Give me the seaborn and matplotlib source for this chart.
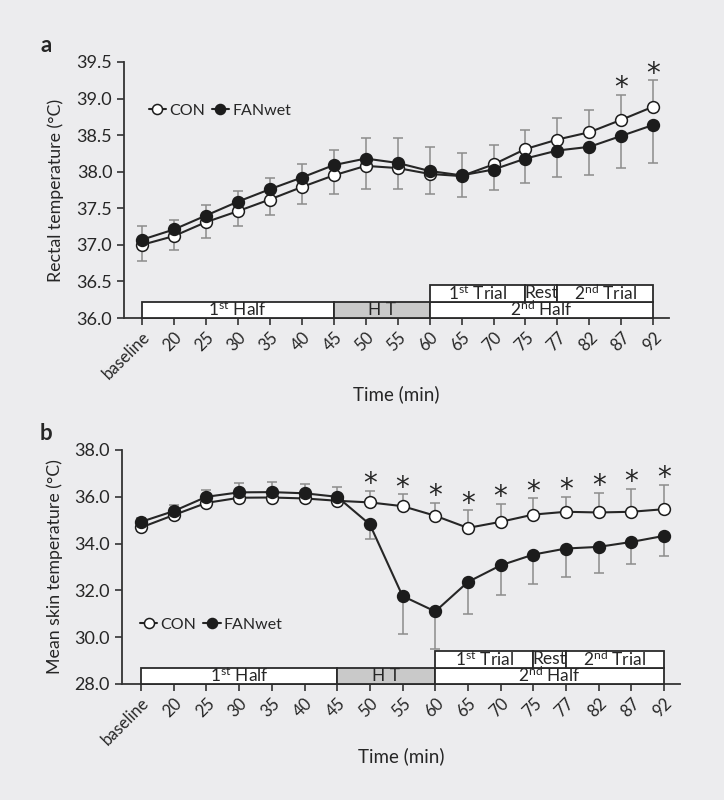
import numpy as np
import pandas as pd
import matplotlib
matplotlib.use("Agg")
import matplotlib.pyplot as plt
import matplotlib.transforms as mtransforms
from matplotlib.patches import Rectangle
from matplotlib import font_manager
import seaborn as sns

# ---------------- data ----------------
time_labels = ["baseline", "20", "25", "30", "35", "40", "45", "50", "55", "60",
               "65", "70", "75", "77", "82", "87", "92"]

rectal_con = [37.00, 37.12, 37.31, 37.46, 37.62, 37.79, 37.95, 38.08, 38.05, 37.97,
              37.94, 38.10, 38.31, 38.44, 38.54, 38.71, 38.89]
rectal_fan = [37.07, 37.21, 37.40, 37.59, 37.76, 37.92, 38.09, 38.18, 38.12, 38.01,
              37.95, 38.03, 38.18, 38.29, 38.34, 38.49, 38.64]
rectal_con_sd = [0.22, 0.19, 0.22, 0.20, 0.21, 0.23, 0.26, 0.31, 0.28, 0.27,
                 0.28, 0.27, 0.26, 0.30, 0.31, 0.34, 0.36]
rectal_fan_sd = [0.19, 0.13, 0.15, 0.14, 0.16, 0.19, 0.21, 0.28, 0.34, 0.33,
                 0.31, 0.28, 0.33, 0.36, 0.38, 0.44, 0.52]
rectal_sig = ["87", "92"]

skin_con = [34.69, 35.22, 35.74, 35.96, 35.97, 35.93, 35.83, 35.76, 35.60, 35.19,
            34.67, 34.93, 35.24, 35.36, 35.33, 35.36, 35.47]
skin_fan = [34.93, 35.39, 36.00, 36.19, 36.20, 36.15, 36.00, 34.82, 31.76, 31.10,
            32.36, 33.07, 33.53, 33.79, 33.86, 34.07, 34.33]
skin_con_sd = [0.15, 0.15, 0.15, 0.15, 0.15, 0.15, 0.15, 0.50, 0.50, 0.55,
               0.76, 0.78, 0.69, 0.64, 0.84, 0.97, 1.03]
skin_fan_sd = [0.15, 0.28, 0.29, 0.38, 0.43, 0.38, 0.43, 0.63, 1.62, 1.60,
               1.36, 1.25, 1.24, 1.22, 1.10, 0.95, 0.87]
skin_sig = ["50", "55", "60", "65", "70", "75", "77", "82", "87", "92"]

phase_lower_labels = [r"1$^{\mathrm{st}}$ Half", "H T", r"2$^{\mathrm{nd}}$ Half"]
phase_lower_spans = [("baseline", "45"), ("45", "60"), ("60", "92")]
phase_lower_fill = ["white", "#c9c9c9", "white"]
phase_upper_labels = [r"1$^{\mathrm{st}}$ Trial", "Rest", r"2$^{\mathrm{nd}}$ Trial"]
phase_upper_spans = [("60", "75"), ("75", "77"), ("77", "92")]

# ---------------- style ----------------
bg = "#ececee"
ink = "#262626"
sns.set_theme(style="ticks", rc={
    "axes.facecolor": bg, "figure.facecolor": bg, "savefig.facecolor": bg,
    "axes.edgecolor": "#333333", "axes.linewidth": 1.3,
    "xtick.color": "#333333", "ytick.color": "#333333",
    "text.color": ink, "axes.labelcolor": ink,
    "xtick.labelcolor": ink, "ytick.labelcolor": ink,
})
avail = {f.name for f in font_manager.fontManager.ttflist}
fam = next((f for f in ["Lato", "Liberation Sans Narrow", "DejaVu Sans"] if f in avail), "DejaVu Sans")
plt.rcParams["font.family"] = [fam, "DejaVu Sans"]
plt.rcParams["mathtext.fontset"] = "custom"
plt.rcParams["mathtext.rm"] = fam
plt.rcParams["mathtext.it"] = fam + ":italic"
plt.rcParams["mathtext.bf"] = fam + ":bold"

W, H = 724, 800
fig = plt.figure(figsize=(W / 100, H / 100), dpi=100)


def px_axes(left, top, right, bottom):
    return fig.add_axes([left / W, 1 - bottom / H, (right - left) / W, (bottom - top) / H])


def panel(ax, con, fan, con_sd, fan_sd, sig, ylim, yticks, ylabel, xlim,
          legend_xy, ylabel_x, xlabel_y):
    n = len(time_labels)
    x = np.arange(n)
    con = np.asarray(con); fan = np.asarray(fan)
    con_sd = np.asarray(con_sd); fan_sd = np.asarray(fan_sd)
    fan_high = fan >= con
    zeros = np.zeros(n)
    con_err = [np.where(fan_high, con_sd, zeros), np.where(fan_high, zeros, con_sd)]
    fan_err = [np.where(fan_high, zeros, fan_sd), np.where(fan_high, fan_sd, zeros)]
    ebkw = dict(fmt="none", ecolor="#8c8c8c", elinewidth=1.1, capsize=3.5, capthick=1.1, zorder=2)
    ax.errorbar(x, con, yerr=con_err, **ebkw)
    ax.errorbar(x, fan, yerr=fan_err, **ebkw)

    sns.lineplot(x=x, y=con, ax=ax, color=ink, linewidth=1.5, marker="o", markersize=8.5,
                 markerfacecolor="white", markeredgecolor="#1c1c1c", markeredgewidth=1.1,
                 label="CON", zorder=3)
    sns.lineplot(x=x, y=fan, ax=ax, color=ink, linewidth=1.5, marker="o", markersize=8.5,
                 markerfacecolor="#1c1c1c", markeredgecolor="#1c1c1c", markeredgewidth=1.1,
                 label="FANwet", zorder=3)

    # significance asterisks above the upper error bar
    for lab in sig:
        i = time_labels.index(lab)
        top = con[i] + con_sd[i] if not fan_high[i] else fan[i] + fan_sd[i]
        ax.annotate("*", xy=(i, top), xytext=(0, -1), textcoords="offset points",
                    ha="center", va="baseline", fontsize=20, color=ink,
                    family="DejaVu Sans")

    ax.set_xlim(*xlim)
    ax.set_ylim(*ylim)
    ax.set_yticks(yticks)
    ax.set_yticklabels([f"{v:.1f}" for v in yticks], fontsize=13)
    ax.set_xticks(x)
    ax.set_xticklabels(time_labels, rotation=45, ha="right", rotation_mode="anchor", fontsize=12)
    ax.tick_params(axis="both", direction="out", length=5, width=1.2)
    ax.tick_params(axis="x", pad=3)
    sns.despine(ax=ax)

    ax.set_ylabel(ylabel, fontsize=12.8)
    ax.yaxis.set_label_coords(ylabel_x, 0.5)
    ax.set_xlabel("Time (min)", fontsize=13.5)
    ax.xaxis.set_label_coords(0.5, xlabel_y)

    # phase boxes
    trans = mtransforms.blended_transform_factory(ax.transData, ax.transAxes)
    ax_h_px = ax.get_position().height * H
    h = 16.5 / ax_h_px
    rows = [(phase_lower_labels, phase_lower_spans, phase_lower_fill, 0.0),
            (phase_upper_labels, phase_upper_spans, ["white"] * 3, h)]
    for labels, spans, fills, y0 in rows:
        for lab, (a, b), fc in zip(labels, spans, fills):
            x0, x1 = time_labels.index(a), time_labels.index(b)
            ax.add_patch(Rectangle((x0, y0), x1 - x0, h, transform=trans, facecolor=fc,
                                   edgecolor="#2a2a2a", linewidth=1.3, zorder=4, clip_on=False))
            ax.text((x0 + x1) / 2, y0 + h / 2, lab, transform=trans, ha="center", va="center",
                    fontsize=12.5, color=ink, zorder=5)

    leg = ax.legend(loc="center left", bbox_to_anchor=legend_xy, ncol=2, frameon=False,
                    handlelength=1.1, handletextpad=0.2, columnspacing=0.4, markerscale=0.85,
                    borderpad=0, borderaxespad=0, fontsize=11.5)
    for t in leg.get_texts():
        t.set_color(ink)


ax1 = px_axes(124, 62, 669, 318)
panel(ax1, rectal_con, rectal_fan, rectal_con_sd, rectal_fan_sd, rectal_sig,
      (36.0, 39.5), np.arange(36.0, 39.51, 0.5), "Rectal temperature (°C)",
      (-0.56, 16.49), (0.045, 0.81), -0.11, -0.262)

ax2 = px_axes(121.5, 450, 680, 684)
panel(ax2, skin_con, skin_fan, skin_con_sd, skin_fan_sd, skin_sig,
      (28.0, 38.0), np.arange(28.0, 38.01, 2.0), "Mean skin temperature (°C)",
      (-0.6, 16.49), (0.033, 0.253), -0.105, -0.272)

fig.text(46 / W, 1 - 46 / H, "a", fontsize=16, fontweight="bold", ha="center", va="center", color=ink)
fig.text(46 / W, 1 - 433 / H, "b", fontsize=16, fontweight="bold", ha="center", va="center", color=ink)

fig.savefig("out.png", dpi=100)
